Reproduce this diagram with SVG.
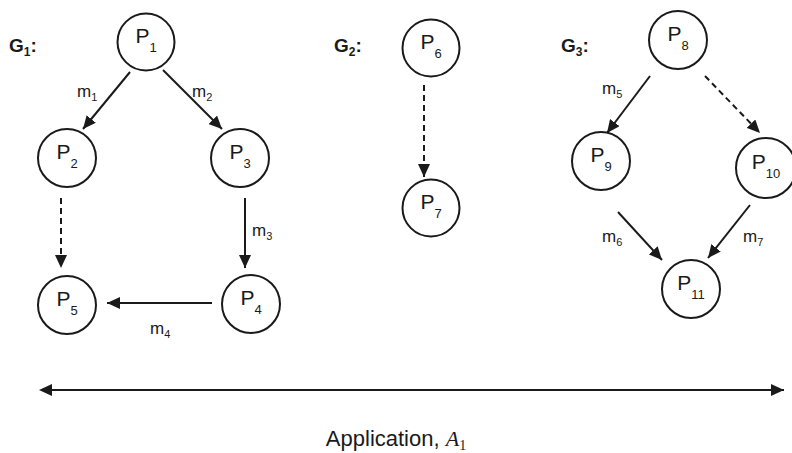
<svg xmlns="http://www.w3.org/2000/svg" width="792" height="453" viewBox="0 0 792 453">
<defs>
<style>
.node{fill:none;stroke:#1a1a1a;stroke-width:2}
.lbl{font-family:"Liberation Sans",Arial,sans-serif;font-size:21px;fill:#1a1a1a;text-anchor:middle}
.sub{font-size:13px}
.e{stroke:#1a1a1a;stroke-width:2;fill:none}
.d{stroke-dasharray:6,4}
.el{font-family:"Liberation Sans",Arial,sans-serif;font-size:17px;fill:#1a1a1a}
.esub{font-size:11px}
.g{font-family:"Liberation Sans",Arial,sans-serif;font-size:19px;font-weight:bold;fill:#1a1a1a}
.gsub{font-size:12px}
</style>
<marker id="ah" markerUnits="userSpaceOnUse" markerWidth="14" markerHeight="12" refX="13" refY="6" orient="auto">
<path d="M0,0 L13,6 L0,12 Z" fill="#1a1a1a"/>
</marker>
<marker id="ahs" markerUnits="userSpaceOnUse" markerWidth="14" markerHeight="12" refX="1" refY="6" orient="auto-start-reverse">
<path d="M0,0 L13,6 L0,12 Z" fill="#1a1a1a"/>
</marker>
</defs>
<rect width="792" height="453" fill="#ffffff"/>

<text class="g" x="9" y="52">G<tspan class="gsub" dy="4">1</tspan><tspan dy="-4">:</tspan></text>
<text class="g" x="334" y="52">G<tspan class="gsub" dy="4">2</tspan><tspan dy="-4">:</tspan></text>
<text class="g" x="561" y="52">G<tspan class="gsub" dy="4">3</tspan><tspan dy="-4">:</tspan></text>

<g id="P1"><circle class="node" cx="146" cy="42" r="28.5"/><text class="lbl" x="146" y="43">P<tspan class="sub" dy="9">1</tspan></text></g>
<g id="P2"><circle class="node" cx="67" cy="158" r="29"/><text class="lbl" x="67" y="159">P<tspan class="sub" dy="9">2</tspan></text></g>
<g id="P3"><circle class="node" cx="240" cy="158" r="29"/><text class="lbl" x="240" y="159">P<tspan class="sub" dy="9">3</tspan></text></g>
<g id="P4"><circle class="node" cx="251" cy="304" r="29"/><text class="lbl" x="251" y="305">P<tspan class="sub" dy="9">4</tspan></text></g>
<g id="P5"><circle class="node" cx="67" cy="305" r="29"/><text class="lbl" x="67" y="306">P<tspan class="sub" dy="9">5</tspan></text></g>
<g id="P6"><circle class="node" cx="431" cy="48" r="28.5"/><text class="lbl" x="431" y="49">P<tspan class="sub" dy="9">6</tspan></text></g>
<g id="P7"><circle class="node" cx="431" cy="208" r="28.5"/><text class="lbl" x="431" y="209">P<tspan class="sub" dy="9">7</tspan></text></g>
<g id="P8"><circle class="node" cx="678" cy="40" r="29"/><text class="lbl" x="678" y="41">P<tspan class="sub" dy="9">8</tspan></text></g>
<g id="P9"><circle class="node" cx="601" cy="161" r="29"/><text class="lbl" x="601" y="162">P<tspan class="sub" dy="9">9</tspan></text></g>
<g id="P10"><circle class="node" cx="766" cy="168" r="30"/><text class="lbl" x="766" y="169">P<tspan class="sub" dy="9">10</tspan></text></g>
<g id="P11"><circle class="node" cx="691" cy="289" r="29"/><text class="lbl" x="691" y="290">P<tspan class="sub" dy="9">11</tspan></text></g>

<g id="connectors">
<line class="e" x1="130" y1="72" x2="83" y2="129" marker-end="url(#ah)"/>
<line class="e" x1="163" y1="70" x2="222" y2="129" marker-end="url(#ah)"/>
<line class="e d" x1="61" y1="198" x2="61" y2="268" marker-end="url(#ah)"/>
<line class="e" x1="245" y1="198" x2="245" y2="268" marker-end="url(#ah)"/>
<line class="e" x1="212" y1="303" x2="107" y2="303" marker-end="url(#ah)"/>
<line class="e d" x1="424" y1="85" x2="424" y2="177" marker-end="url(#ah)"/>
<line class="e" x1="650" y1="76" x2="607" y2="133" marker-end="url(#ah)"/>
<line class="e d" x1="705" y1="76" x2="760" y2="133" marker-end="url(#ah)"/>
<line class="e" x1="618" y1="212" x2="662" y2="260" marker-end="url(#ah)"/>
<line class="e" x1="750" y1="205" x2="708" y2="258" marker-end="url(#ah)"/>
<line class="e" x1="51" y1="390" x2="784" y2="390" stroke-width="1.5" marker-start="url(#ahs)" marker-end="url(#ah)"/>
</g>

<text class="el" x="77" y="97">m<tspan class="esub" dy="4">1</tspan></text>
<text class="el" x="192" y="97">m<tspan class="esub" dy="4">2</tspan></text>
<text class="el" x="252" y="236">m<tspan class="esub" dy="4">3</tspan></text>
<text class="el" x="150" y="334">m<tspan class="esub" dy="4">4</tspan></text>
<text class="el" x="602" y="94">m<tspan class="esub" dy="4">5</tspan></text>
<text class="el" x="602" y="242">m<tspan class="esub" dy="4">6</tspan></text>
<text class="el" x="743" y="242">m<tspan class="esub" dy="4">7</tspan></text>

<text x="396" y="446" font-family="Liberation Sans, Arial, sans-serif" font-size="22" fill="#1a1a1a" text-anchor="middle">Application, <tspan font-family="Liberation Serif, Times New Roman, serif" font-style="italic">A</tspan><tspan font-family="Liberation Serif, Times New Roman, serif" font-size="14" dy="4">1</tspan></text>
</svg>
